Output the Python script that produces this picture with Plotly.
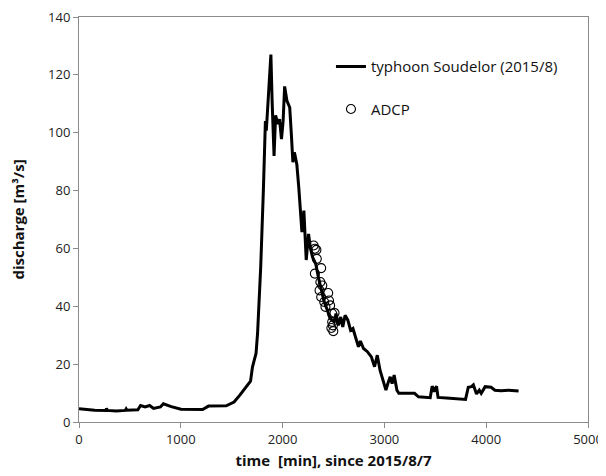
import plotly.graph_objects as go

# typhoon Soudelor discharge hydrograph
time_min = [0, 154, 265, 270, 278, 366, 455, 463, 470, 578, 605, 650, 694, 732, 800, 829, 906, 1002, 1214, 1272,
            1446, 1523, 1580, 1638, 1685, 1704, 1739, 1754, 1785, 1812, 1831, 1840, 1862, 1885, 1897, 1916,
            1931, 1954, 1970, 1989, 2005, 2020, 2043, 2070, 2086, 2101, 2116, 2140, 2159, 2178, 2190,
            2209, 2232, 2255, 2274, 2294, 2325, 2352, 2379, 2409, 2440, 2467, 2506, 2525, 2548, 2571,
            2591, 2614, 2641, 2668, 2691, 2718, 2745, 2764, 2795, 2833, 2872, 2903, 2930, 2957, 2988,
            3015, 3034, 3057, 3076, 3096, 3123, 3142, 3219, 3296, 3335, 3450, 3469, 3489, 3512, 3527,
            3643, 3797, 3824, 3855, 3874, 3905, 3932, 3951, 3990, 4048, 4086, 4144, 4221, 4318]
discharge = [4.6, 4.1, 4.0, 4.7, 4.0, 3.8, 4.0, 4.5, 4.1, 4.2, 5.7, 5.2, 5.7, 4.7, 5.2, 6.3, 5.3, 4.4, 4.3, 5.5,
             5.6, 6.9, 9.3, 11.8, 14.1, 19.0, 23.7, 30.6, 53.6, 81.0, 104.0, 100.7, 113.0, 127.0, 111.0, 92.0,
             106.0, 103.0, 104.7, 97.8, 104.0, 116.0, 111.0, 108.7, 99.5, 89.8, 93.2, 89.0, 81.0, 72.0, 65.6,
             73.1, 56.0, 65.0, 60.0, 57.0, 54.7, 50.0, 45.5, 41.5, 38.6, 35.7, 34.6, 37.5, 33.4, 36.3,
             32.9, 36.9, 35.2, 31.7, 32.3, 28.9, 26.0, 28.0, 25.4, 24.3, 22.5, 19.1, 23.1, 17.9, 14.5,
             11.0, 13.3, 15.6, 13.3, 16.2, 11.0, 9.9, 9.9, 9.9, 8.7, 8.4, 12.4, 10.5, 12.4, 8.5,
             8.2, 7.8, 12.0, 12.2, 12.8, 9.7, 11.0, 9.9, 12.2, 12.0, 11.0, 10.8, 11.0, 10.7]

# ADCP measurements
adcp_time = [2305, 2317, 2332, 2336, 2317, 2379, 2371, 2390, 2363, 2379, 2448, 2409, 2421, 2456, 2467,
             2487, 2510, 2487, 2494, 2498, 2479]
adcp_q = [61.0, 59.9, 59.5, 56.4, 51.3, 53.2, 48.4, 47.2, 45.5, 43.2, 44.6, 41.5, 39.8, 42.0, 40.3,
          37.5, 37.7, 34.6, 33.4, 31.4, 32.5]

x_ticks = [0, 1000, 2000, 3000, 4000, 5000]
y_ticks = [0, 20, 40, 60, 80, 100, 120, 140]

FONT = "'Open Sans', sans-serif"

fig = go.Figure()
fig.add_trace(go.Scatter(
    x=time_min, y=discharge, mode="lines", name="typhoon Soudelor (2015/8)",
    line=dict(color="black", width=3), legendgroup="a"))
fig.add_trace(go.Scatter(
    x=adcp_time, y=adcp_q, mode="markers", name="ADCP",
    marker=dict(symbol="circle-open", size=9, color="black", line=dict(width=1.1)),
    legendgroup="b"))

axis_common = dict(
    showgrid=False, zeroline=False, showline=True, linecolor="#8c8c8c", linewidth=1,
    mirror=True, ticks="outside", ticklen=5, tickcolor="#8c8c8c", automargin=False,
    ticklabeloverflow="allow",
    tickfont=dict(family=FONT, size=13, color="#222"),
)
fig.update_xaxes(range=[0, 5000], tickvals=x_ticks, **axis_common,
                 title=dict(text="<b>time  [min], since 2015/8/7</b>",
                            font=dict(family=FONT, size=15, color="#111"), standoff=8))
fig.update_yaxes(range=[0, 140], tickvals=y_ticks, **axis_common,
                 title=dict(text="<b>discharge [m³/s]</b>",
                            font=dict(family=FONT, size=15, color="#111"), standoff=24))

# page body adds an 8px margin, so the figure is sized/offset to compensate
fig.update_layout(
    width=598, height=468,
    margin=dict(l=71, r=18, t=9, b=54),
    plot_bgcolor="white", paper_bgcolor="white",
    font=dict(family=FONT, size=13, color="#111"),
    legend=dict(x=0.495, y=0.918, xanchor="left", yanchor="top",
                bgcolor="rgba(0,0,0,0)", tracegroupgap=20, itemwidth=30,
                font=dict(family=FONT, size=15, color="#111")),
    showlegend=True,
)

fig.write_html("out.html")
